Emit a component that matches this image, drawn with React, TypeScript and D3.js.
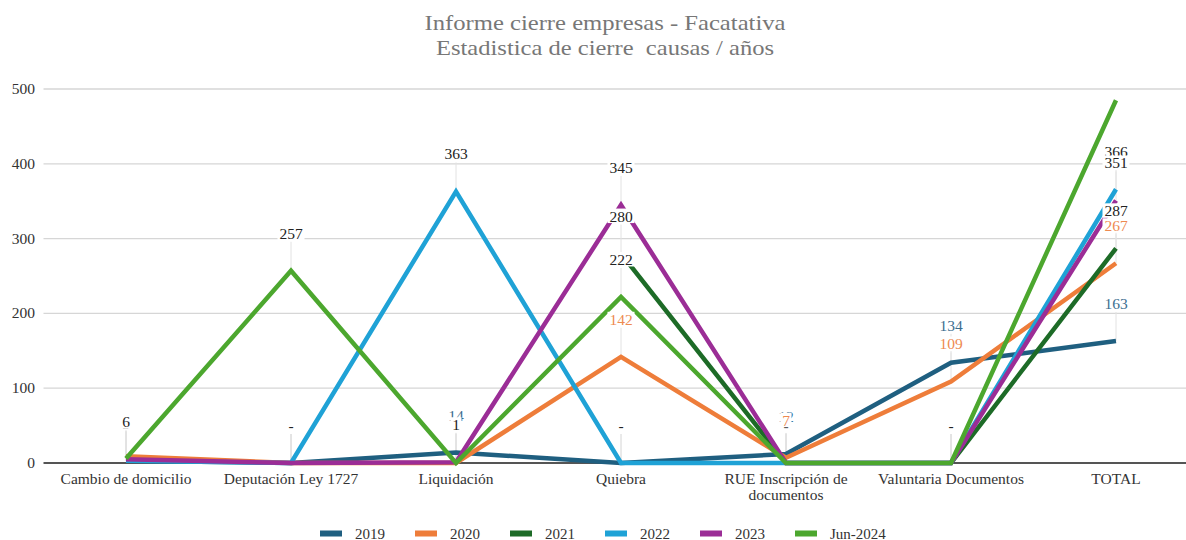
import React from 'react';
import * as d3 from 'd3';

// ── Data ──────────────────────────────────────────────────────────────────────
const categories = [
  'Cambio de domicilio',
  'Deputación Ley 1727',
  'Liquidación',
  'Quiebra',
  'RUE Inscripción de documentos',
  'Valuntaria Documentos',
  'TOTAL',
];

const seriesNames = ['2019', '2020', '2021', '2022', '2023', 'Jun-2024'];
const seriesColors = ['#1f5f80', '#ee7d3a', '#1d6b27', '#1fa2d6', '#9b2d96', '#4ca72e'];
const labelColors = ['#3b6e8f', '#ee8a50', '#222', '#222', '#222', '#222'];

const v2019 = [3, 0, 14, 0, 12, 134, 163];
const v2020 = [9, 0, 0, 142, 7, 109, 267];
const v2021 = [null, null, null, 280, 0, 0, 287];
const v2022 = [3, 0, 363, 0, 0, 0, 366];
const v2023 = [5, 0, 1, 345, 0, 0, 351];
const vJun2024 = [6, 257, 0, 222, 0, 0, 485];
const seriesValues: (number | null)[][] = [v2019, v2020, v2021, v2022, v2023, vJun2024];

const yTicks = [0, 100, 200, 300, 400, 500];

const titleLines = ['Informe cierre empresas - Facatativa', 'Estadistica de cierre  causas / años'];
const titleWidths = [361, 338];

// ── Layout ────────────────────────────────────────────────────────────────────
const W = 1186;
const H = 540;
const PLOT = { left: 43.5, right: 1198.5, top: 89, bottom: 463 };
const FONT = 'Liberation Serif, Tinos, DejaVu Serif, Times New Roman, serif';
const LABEL_OFFSET = 37;

export default function App() {
  const x = d3.scaleBand().domain(categories).range([PLOT.left, PLOT.right]).padding(0);
  const cx = (c: string) => (x(c) ?? 0) + x.bandwidth() / 2;
  const y = d3.scaleLinear().domain([0, 500]).range([PLOT.bottom, PLOT.top]);

  const line = d3
    .line<number | null>()
    .defined((d) => d != null)
    .x((_, i) => cx(categories[i]))
    .y((d) => y(d as number));

  // data labels: zeros ("-") first, then values in series order
  type Lbl = { s: number; i: number; v: number };
  const labels: Lbl[] = [];
  seriesValues.forEach((vals, s) =>
    vals.forEach((v, i) => {
      if (v == null) return;
      if (y(v) - LABEL_OFFSET < PLOT.top - 10) return; // off the top, not shown
      labels.push({ s, i, v });
    }),
  );
  const ordered = [...labels.filter((l) => l.v === 0), ...labels.filter((l) => l.v !== 0)];

  return (
    <svg
      width={W}
      height={H}
      fontFamily={FONT}
      style={{ position: 'absolute', left: 0, top: 0, background: '#fff' }}
    >
      {/* Title */}
      {titleLines.map((t, k) => (
        <text
          key={k}
          x={605}
          y={30 + k * 25}
          textAnchor="middle"
          fontSize={21.5}
          fill="#777"
          textLength={titleWidths[k]}
          lengthAdjust="spacingAndGlyphs"
          style={{ whiteSpace: 'pre' }}
        >
          {t}
        </text>
      ))}

      {/* Grid */}
      {yTicks.slice(1).map((t) => (
        <line key={t} x1={PLOT.left} x2={W} y1={y(t)} y2={y(t)} stroke="#d6d6d6" strokeWidth={1.3} />
      ))}
      {yTicks.map((t) => (
        <text key={t} x={35} y={y(t) + 5} textAnchor="end" fontSize={15.5} fill="#333">
          {t}
        </text>
      ))}

      {/* Leader lines */}
      {ordered.map((l, k) => (
        <line
          key={k}
          x1={cx(categories[l.i])}
          x2={cx(categories[l.i])}
          y1={y(l.v) - LABEL_OFFSET + 8}
          y2={y(l.v)}
          stroke="#e2e2e2"
          strokeWidth={1}
        />
      ))}

      {/* Baseline */}
      <line x1={PLOT.left} x2={W} y1={y(0)} y2={y(0)} stroke="#555" strokeWidth={2} />

      {/* Series lines */}
      {seriesValues.map((vals, s) => (
        <path
          key={s}
          d={line(vals) ?? ''}
          fill="none"
          stroke={seriesColors[s]}
          strokeWidth={4.5}
          strokeLinejoin="miter"
        />
      ))}

      {/* Data labels */}
      {ordered.map((l, k) => {
        const txt = l.v === 0 ? '-' : String(l.v);
        const lx = cx(categories[l.i]);
        const ly = y(l.v) - LABEL_OFFSET;
        const w = txt.length * 8 + 3;
        return (
          <g key={k}>
            <rect x={lx - w / 2} y={ly - 8} width={w} height={14.5} fill="#fff" />
            <text x={lx} y={ly + 5} textAnchor="middle" fontSize={15.5} fill={labelColors[l.s]}>
              {txt}
            </text>
          </g>
        );
      })}

      {/* Category labels */}
      {categories.map((c) => {
        const parts = c === 'RUE Inscripción de documentos' ? ['RUE Inscripción de', 'documentos'] : [c];
        return (
          <text key={c} x={cx(c)} y={484} textAnchor="middle" fontSize={15.5} fill="#333">
            {parts.map((p, k) => (
              <tspan key={k} x={cx(c)} dy={k === 0 ? 0 : 16}>
                {p}
              </tspan>
            ))}
          </text>
        );
      })}

      {/* Legend */}
      {seriesNames.map((n, s) => {
        const lx = 320 + s * 95;
        return (
          <g key={n}>
            <rect x={lx} y={530.5} width={22} height={6} fill={seriesColors[s]} />
            <text x={lx + 35} y={538.5} fontSize={15} fill="#333">
              {n}
            </text>
          </g>
        );
      })}
    </svg>
  );
}
